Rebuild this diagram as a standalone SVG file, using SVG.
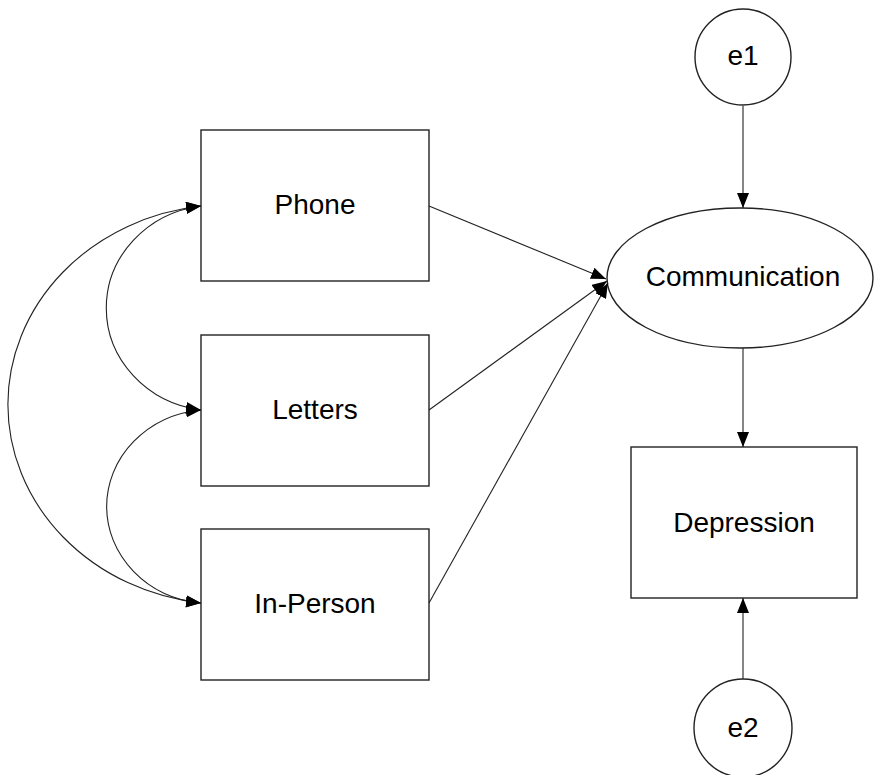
<svg xmlns="http://www.w3.org/2000/svg" width="874" height="775" viewBox="0 0 874 775">
<defs>
<marker id="ah" viewBox="0 0 15 12" refX="15" refY="6" markerWidth="15" markerHeight="12" markerUnits="userSpaceOnUse" orient="auto-start-reverse">
<path d="M0,0 L15,6 L0,12 Z" fill="#000"/>
</marker>
</defs>
<style>
.box{fill:#fff;stroke:#222;stroke-width:1.4}
.lbl{font-family:"Liberation Sans",Arial,sans-serif;font-size:28px;fill:#000;text-anchor:middle}
.con{fill:none;stroke:#222;stroke-width:1.1}
</style>
<rect width="874" height="775" fill="#fff"/>
<g id="phone"><rect class="box" x="201" y="130" width="228" height="151"/><text class="lbl" x="315" y="214">Phone</text></g>
<g id="letters"><rect class="box" x="201" y="335" width="228" height="151"/><text class="lbl" x="315" y="419">Letters</text></g>
<g id="inperson"><rect class="box" x="201" y="529" width="228" height="151"/><text class="lbl" x="315" y="613">In-Person</text></g>
<g id="communication"><ellipse class="box" cx="740" cy="278" rx="133" ry="70"/><text class="lbl" x="743" y="286">Communication</text></g>
<g id="depression"><rect class="box" x="631" y="447" width="226" height="151"/><text class="lbl" x="744" y="532">Depression</text></g>
<g id="e1"><circle class="box" cx="743" cy="57" r="48"/><text class="lbl" x="743" y="65">e1</text></g>
<g id="e2"><circle class="box" cx="743" cy="728" r="49"/><text class="lbl" x="743" y="737">e2</text></g>
<g id="connectors">
<path class="con" d="M429,206 L606,279" marker-end="url(#ah)"/>
<path class="con" d="M429,410 L607,281" marker-end="url(#ah)"/>
<path class="con" d="M429,603 L608,283" marker-end="url(#ah)"/>
<path class="con" d="M743,106 L743,208" marker-end="url(#ah)"/>
<path class="con" d="M743,348 L743,447" marker-end="url(#ah)"/>
<path class="con" d="M743,679 L743,598" marker-end="url(#ah)"/>
<path class="con" d="M201,206 A110,103 0 0 0 201,410" marker-start="url(#ah)" marker-end="url(#ah)"/>
<path class="con" d="M201,410 A105,97 0 0 0 201,603" marker-start="url(#ah)" marker-end="url(#ah)"/>
<path class="con" d="M201,206 A220,200 0 0 0 201,603" marker-start="url(#ah)" marker-end="url(#ah)"/>
</g>
</svg>
